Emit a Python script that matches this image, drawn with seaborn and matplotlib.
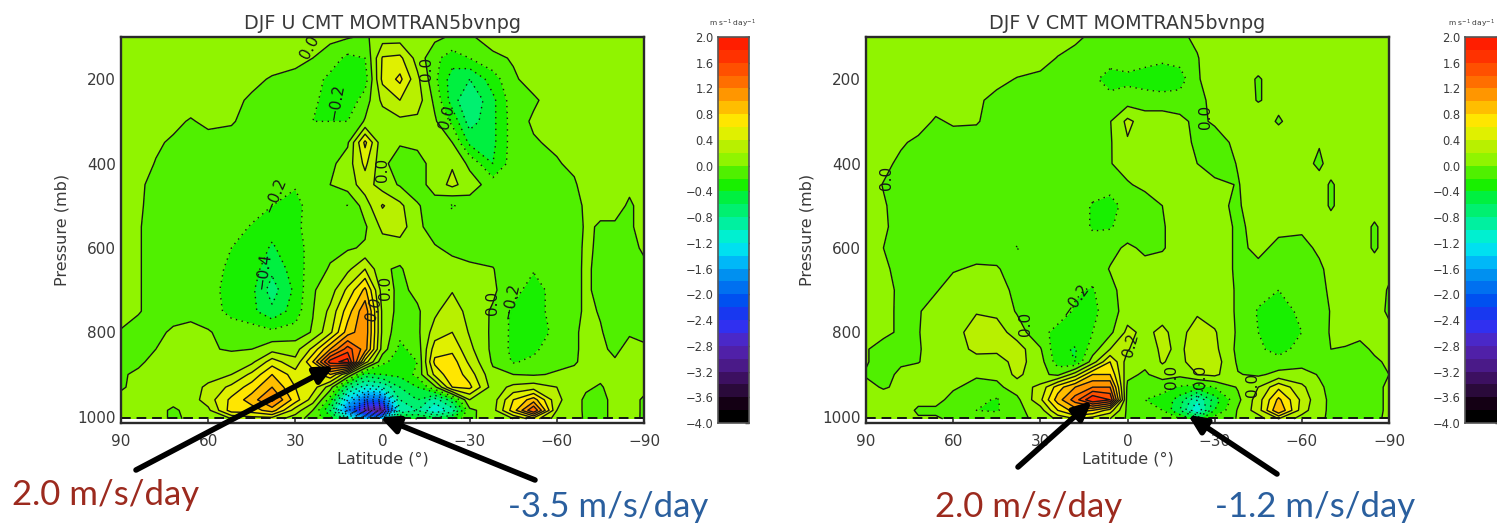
import numpy as np
import matplotlib
matplotlib.use("Agg")
import matplotlib.pyplot as plt
import seaborn as sns
from matplotlib.colors import ListedColormap, BoundaryNorm

lat = [90,84,78,72,66,60,52,45,38,30, 24,18,12,6,0,-6,-12,-18,-24,-30, -38,-45,-52,-60,-66,-70,-75,-80,-85,-90]
pressure = [100,150,200,250,300,350,400,450,500,550,600,650,700,750,800,840,870,900,930,960,985,1005]

u_values = [
 [.1,.1,.1,.1,.1,.1,.1,.1,.1,.1, .05,.05,.02,-.03,.1,.1,.1,.05,-.03,-.03, .1,.1,.1,.1,.1,.1,.1,.1,.1,.1],
 [.1,.1,.1,.1,.1,.1,.1,.1,.1,.05, 0,-.1,-.25,-.2,.42,.45,.12,-.15,-.3,-.2, -.05,.02,.1,.1,.1,.1,.1,.1,.1,.1],
 [.1,.1,.1,.1,.1,.1,.1,.05,-.02,-.05, -.12,-.25,-.35,-.3,.45,.65,.25,-.15,-.5,-.6, -.3,-.03,.08,.1,.1,.1,.1,.1,.1,.1],
 [.1,.1,.1,.1,.1,.1,.05,-.03,-.08,-.1, -.15,-.3,-.35,-.1,.25,.4,.3,-.05,-.5,-.8, -.45,-.08,-.03,.1,.1,.1,.1,.1,.1,.1],
 [.1,.1,.1,.05,-.02,.05,.02,-.08,-.1,-.1, -.2,-.2,-.2,.02,.08,.15,.15,.03,-.25,-.7, -.45,-.1,.03,.1,.1,.1,.1,.1,.1,.1],
 [.1,.1,.03,-.03,-.08,-.08,-.08,-.1,-.1,-.1, -.1,-.1,-.03,.65,.05,.02,.06,.08,0,-.45, -.45,-.1,-.02,.04,.1,.1,.1,.1,.1,.1],
 [.1,.08,-.01,-.08,-.1,-.1,-.1,-.1,-.1,-.1, -.1,-.05,.1,.45,.05,-.1,-.1,.1,.18,-.05, -.4,-.1,-.1,-.02,.05,.1,.1,.1,.1,.1],
 [.1,.03,-.05,-.1,-.1,-.1,-.1,-.1,-.1,-.18, -.1,0,.1,.3,.1,-.02,-.1,.1,.25,.1, -.1,-.1,-.1,-.1,-.03,.1,.08,.08,.03,.08],
 [.1,.02,-.05,-.1,-.1,-.1,-.1,-.1,-.2,-.27, -.1,-.1,-.21,.1,.42,.25,.02,-.1,-.22,-.1, -.1,-.1,-.1,-.1,-.1,.05,.05,.05,-.02,.05],
 [.1,.01,-.05,-.1,-.1,-.1,-.1,-.22,-.35,-.25, -.1,-.08,-.05,-.03,.25,.3,.05,-.1,-.1,-.1, -.1,-.1,-.1,-.1,-.1,.03,-.02,-.02,-.02,.05],
 [.1,.01,-.05,-.1,-.1,-.1,-.2,-.3,-.42,-.3, -.1,-.05,-.02,.02,.1,.1,.1,.02,-.05,-.1, -.1,-.1,-.1,-.1,-.06,.03,-.03,-.04,-.04,.02],
 [.1,.01,-.05,-.1,-.1,-.1,-.25,-.3,-.55,-.3, -.1,.02,.15,.4,.02,-.02,.1,.1,.08,.05, .01,-.15,-.18,-.1,-.05,.03,-.05,-.05,-.05,-.03],
 [.1,.01,-.05,-.1,-.1,-.15,-.25,-.35,-.7,-.35, -.02,.1,.45,.85,.1,-.05,.05,.1,.18,.1, .03,-.12,-.3,-.1,-.05,.03,-.05,-.05,-.05,-.03],
 [.1,.01,-.05,-.05,-.03,-.12,-.25,-.35,-.55,-.3, -.01,.25,.7,1.15,.15,-.08,-.03,.15,.35,.1, -.02,-.25,-.3,-.1,-.05,.03,-.01,-.05,-.05,-.03],
 [-.02,-.05,-.03,.02,.03,.02,-.1,-.1,-.15,-.12, .02,.35,.9,1.15,.15,-.15,-.05,.3,.4,.18, -.04,-.25,-.3,-.15,-.03,.05,.01,-.05,-.01,-.03],
 [-.02,-.05,0,.06,.08,.02,-.02,0,.12,.12, .45,1.0,1.5,1.1,.1,-.25,-.12,.5,.55,.25, -.05,-.25,-.25,-.05,-.03,.05,.02,-.02,.03,.02],
 [0,-.03,.05,.1,.1,.08,.1,.15,.5,.25, .8,1.7,1.9,.5,-.15,-.3,-.2,.65,.7,.35, -.03,-.22,-.15,-.05,-.02,.05,.05,.01,.05,.03],
 [-.02,.03,.1,.1,.1,.1,.2,.45,.8,.5, .45,.8,.2,-.5,-.4,-.35,-.15,.45,.75,.5, .05,0,-.02,.02,.05,.1,.05,.06,.08,.06],
 [-.02,.05,.1,.1,.1,.25,.45,.7,1.0,.6, .5,.1,-.7,-1.1,-1.0,-.6,-.4,-.05,.6,.65, .1,.25,.3,.2,.1,.03,-.02,.08,.08,.06],
 [.05,.05,.1,.1,.1,.3,.65,.9,1.25,.7, .3,-.3,-1.4,-2.0,-2.0,-.8,-.6,-.9,-.5,.2, .1,.6,.9,.25,.08,-.04,-.05,.05,.08,-.03],
 [.05,.1,.1,-.05,.1,.15,.7,.7,.9,.3, 0,-.6,-1.9,-3.0,-3.2,-1,-.8,-1.2,-.9,-.05, .12,.7,1.4,.2,.08,-.04,-.05,.05,.08,-.03],
 [.05,.05,.1,-.05,.05,.1,.2,.3,.3,.1, -.1,-.3,-1,-1.5,-1.5,-.3,-.4,-.5,-.4,-.02, .05,.2,.5,.1,.05,-.02,-.03,.03,.05,-.02],
]

v_values = [
 [.1,.1,.1,.1,.1,.1,.1,.1,.1,.1, .1,.03,-.03,-.05,-.05,-.05,-.05,-.03,.03,.1, .1,.1,.1,.1,.1,.1,.1,.1,.1,.1],
 [.1,.1,.1,.1,.1,.1,.1,.1,.1,.08, -.01,-.05,-.1,-.1,-.1,-.12,-.15,-.12,-.01,.1, .1,.1,.1,.1,.1,.1,.1,.1,.1,.1],
 [.1,.1,.1,.1,.1,.1,.1,.05,-.01,-.05, -.08,-.1,-.15,-.3,-.25,-.3,-.35,-.3,-.02,.1, .1,-.02,.1,.1,.1,.1,.1,.1,.1,.1],
 [.1,.1,.1,.1,.1,.1,.03,-.05,-.08,-.1, -.1,-.1,-.1,-.12,-.1,-.1,-.1,-.1,-.05,.05, .08,-.01,.05,.08,.1,.1,.1,.1,.1,.1],
 [.1,.1,.1,.1,-.03,.03,.02,-.1,-.1,-.1, -.1,-.1,-.1,-.01,.25,.1,.1,.05,-.05,.03, .1,.1,-.02,.1,.1,.1,.1,.1,.1,.1],
 [.1,.1,.03,-.05,-.1,-.1,-.1,-.1,-.1,-.1, -.1,-.1,-.1,-.02,.18,.1,.1,.1,-.05,-.1, .06,.1,.1,.1,.02,.1,.1,.1,.1,.1],
 [.1,.06,-.05,-.1,-.1,-.1,-.1,-.1,-.1,-.1, -.1,-.1,-.08,-.01,.08,.1,.1,.1,0,-.1, .01,.1,.1,.1,-.05,.1,.1,.1,.1,.1],
 [.1,-.01,-.08,-.1,-.1,-.1,-.1,-.1,-.1,-.1, -.1,-.1,-.1,-.1,-.02,.05,.1,.1,.1,.05, -.01,.1,.1,.1,.1,-.03,.1,.1,.1,.1],
 [.1,.02,-.08,-.1,-.1,-.1,-.1,-.1,-.1,-.1, -.1,-.1,-.22,-.3,-.1,-.1,0,.1,.1,.03, -.02,.1,.1,.1,.1,-.03,.1,.1,.1,.1],
 [.1,.02,-.05,-.1,-.1,-.1,-.1,-.1,-.1,-.1, -.1,-.1,-.22,-.22,-.1,-.1,-.02,.1,.1,.1, -.03,.05,.03,.03,.1,.1,.1,.1,-.03,.1],
 [.05,0,-.05,-.1,-.1,-.1,-.1,-.1,-.21,-.1, -.1,-.1,-.12,-.05,.03,-.03,-.02,.1,.1,.1, -.03,.03,-.03,-.05,.03,.1,.1,.1,-.03,.1],
 [.05,.03,-.05,-.1,-.1,-.02,.03,.02,-.1,-.1, -.1,-.1,-.1,.01,.1,.05,.1,.1,.1,.1, -.03,-.03,-.1,-.1,-.03,.05,.1,.1,.1,.05],
 [.05,.05,-.03,-.05,-.02,.1,.1,.08,-.05,-.1, -.1,-.18,-.22,-.05,.08,.1,.1,.1,.1,.1, -.02,-.12,-.2,-.1,-.05,.03,.1,.1,.1,-.02],
 [.05,.03,-.02,-.02,.1,.1,.18,.15,-.02,-.1, -.12,-.22,-.25,-.1,.1,.1,.1,.1,.15,.1, -.02,-.22,-.3,-.15,-.08,.01,.05,.05,.05,-.02],
 [.05,.03,-.02,-.01,.1,.1,.32,.3,.1,-.15, -.25,-.28,-.2,-.05,.25,.15,.25,.1,.35,.22, -.03,-.2,-.4,-.2,-.05,.01,.05,.05,.05,.03],
 [.01,-.05,-.05,-.02,.1,.1,.25,.25,.3,.02, -.35,-.42,-.1,.2,.22,.05,.25,.15,.35,.25, -.05,-.15,-.3,-.1,-.05,0,-.01,-.05,.03,.03],
 [.01,-.05,-.02,-.01,.1,.1,.12,.1,.28,.08, -.3,-.4,.1,.6,.1,.05,.22,.1,.4,.3, -.03,-.15,-.1,-.05,-.03,-.03,-.05,-.02,-.03,.03],
 [-.01,-.05,.03,.1,.1,.1,.02,.05,.25,.05, -.05,.3,.8,.8,.05,-.03,.1,.05,.2,.25, .01,-.03,.05,.05,-.01,-.05,-.05,-.02,-.05,0],
 [.03,-.01,.02,.1,.1,.02,-.05,-.05,.1,.25, .7,1.0,1.2,1.2,-.05,-.15,-.15,-.22,-.3,-.2, .02,.2,.55,.25,.02,-.03,-.05,-.05,-.03,.02],
 [.1,.05,.1,.05,.05,-.05,-.15,-.22,-.05,.35, .9,1.3,1.8,1.6,-.1,-.2,-.25,-.5,-1.0,-.5, -.05,.3,.85,.35,.05,-.03,-.05,-.05,-.03,.02],
 [.1,.1,.1,-.03,-.03,-.1,-.2,-.22,-.05,.1, .6,.9,.8,.5,-.05,-.1,-.2,-.6,-1.2,-.4, .02,.3,1.0,.3,.03,-.02,-.05,-.05,-.03,.02],
 [.1,.05,.05,.02,.02,-.03,-.1,-.1,-.02,.02, .25,.4,.3,.2,-.03,-.05,-.05,-.2,-.5,-.1, .01,.1,.4,.1,.02,-.02,-.03,-.03,-.02,.02],
]

titles = ["DJF U CMT MOMTRAN5bvnpg", "DJF V CMT MOMTRAN5bvnpg"]
lat_ticks = [90, 60, 30, 0, -30, -60, -90]
lat_tick_labels = ["90", "60", "30", "0", "\u221230", "\u221260", "\u221290"]
p_ticks = [200, 400, 600, 800, 1000]
cbar_ticks = [2.0,1.6,1.2,0.8,0.4,0.0,-0.4,-0.8,-1.2,-1.6,-2.0,-2.4,-2.8,-3.2,-3.6,-4.0]
band_colors = ["#000000","#140014","#2a0a3a","#3c1060","#4a1a88","#5020a8","#4a28c8","#3030f0",
               "#1838f0","#0050f0","#0070f0","#0090f0","#00b8f8","#00e0f0","#00f0d0","#00f0a0",
               "#00f070","#00f040","#18f000","#50f000","#90f400","#b8f000","#e0f000","#ffe600",
               "#ffbe00","#ff9600","#ff6e00","#ff5000","#ff3200","#ff1e00"]
levels = [round(-4 + 0.2*i, 1) for i in range(31)]

u_labels = [("0.0",25,125,62),("\u22120.2",16,255,80),("\u22120.2",37,475,68),("\u22120.4",41,655,82),
            ("0.0",-15,175,90),("0.0",-22,290,75),("0.0",0,415,90),("0.0",-38,730,90),("\u22120.2",-44,725,78),
            ("0.0",-1,695,90),("0.0",3,745,75)]
v_labels = [("0.0",83,435,90),("0.0",-27,290,90),("0.0",35,780,90),("\u22120.2",18,725,55),
            ("0.2",-1,830,75),("0.0",-15,905,90),("0.0",-25,905,90),("0.0",-43,925,90)]

sns.set_theme(style="ticks")
plt.rcParams["font.family"] = ["DejaVu Sans"]
W, H = 1497, 527
fig = plt.figure(figsize=(W/100, H/100), dpi=100)
cmap = ListedColormap(sns.color_palette(band_colors, n_colors=len(band_colors)))
norm = BoundaryNorm(levels, cmap.N)
TXT = "#3a3a3a"


def box(x0, x1, y0=37, y1=423):
    return [x0/W, 1 - y1/H, (x1-x0)/W, (y1-y0)/H]


def panel(x0, x1, values, title, labels):
    ax = fig.add_axes(box(x0, x1))
    z = np.array(values, dtype=float)
    ax.contourf(lat, pressure, z, levels=levels, cmap=cmap, norm=norm)
    neg = [l for l in levels if l < 0]
    pos = [l for l in levels if l >= 0]
    ax.contour(lat, pressure, z, levels=neg, colors="#151515", linewidths=1.0,
               linestyles=[(0, (1, 3.2))])
    ax.contour(lat, pressure, z, levels=pos, colors="#151515", linewidths=1.0, linestyles="solid")
    ax.axhline(1003, color="#111111", lw=1.4, ls=(0, (5, 3)))
    ax.set_xlim(90, -90)
    ax.set_ylim(1015, 100)
    ax.set_xticks(lat_ticks, lat_tick_labels)
    ax.set_yticks(p_ticks, [str(p) for p in p_ticks])
    ax.set_yticks(np.arange(100, 1001, 50), minor=True)
    ax.tick_params(axis="both", which="major", direction="in", top=True, right=True, length=7,
                   width=1.1, labelsize=11, labelcolor=TXT, color="#222222")
    ax.tick_params(axis="x", which="major", pad=8)
    ax.tick_params(axis="y", which="major", pad=3.5)
    ax.tick_params(axis="y", which="minor", direction="in", left=True, right=True, length=4,
                   width=1.0, color="#222222")
    for s in ax.spines.values():
        s.set_linewidth(1.7)
        s.set_color("#2a2a2a")
    ax.set_xlabel("Latitude (\u00b0)", fontsize=11.5, color=TXT, labelpad=2)
    ax.set_ylabel("Pressure (mb)", fontsize=11.5, color=TXT, labelpad=6)
    ax.set_title(title, fontsize=13.8, color=TXT, pad=6)
    for s, la, p, r in labels:
        ax.text(la, p, s, fontsize=11, rotation=r, ha="center", va="center", color="#161616")
    return ax


def colorbar(x0, x1, title_x, title_ha):
    cax = fig.add_axes(box(x0, x1))
    bands = np.array(levels[:-1][::-1]).reshape(-1, 1) + 0.1
    sns.heatmap(bands, cmap=cmap, norm=norm, cbar=False, ax=cax, xticklabels=False, yticklabels=False)
    cax.set_xticks([])
    pos = [(2.0 - t)/0.2 for t in cbar_ticks]
    cax.set_yticks(pos, [f"{t:.1f}".replace("-", "\u2212") for t in cbar_ticks])
    cax.tick_params(axis="y", left=False, right=True, labelleft=True, labelright=False, direction="in",
                    length=3, width=1, labelsize=8.3, labelcolor=TXT, pad=3, color="#222222",
                    labelrotation=0)
    for s in cax.spines.values():
        s.set_visible(True)
        s.set_linewidth(1.2)
        s.set_color("#555555")
    fig.text(title_x/W, 1 - 27/H, "m s$^{-1}$ day$^{-1}$", fontsize=5.4, color=TXT,
             ha=title_ha, va="baseline")


panel(121, 644, u_values, titles[0], u_labels)
panel(866, 1389, v_values, titles[1], v_labels)
colorbar(718, 749, 733, "center")
colorbar(1465, 1499, 1495, "right")

overlay = fig.add_axes([0, 0, 1, 1])
overlay.set_xlim(0, W)
overlay.set_ylim(H, 0)
overlay.axis("off")
overlay.patch.set_alpha(0)
arrows = [((136, 470), (334, 366)), ((535, 480), (380, 417)), ((1018, 467), (1092, 401)), ((1277, 474), (1188, 415))]
for start, end in arrows:
    overlay.annotate("", xy=end, xytext=start, arrowprops=dict(arrowstyle="-|>,head_width=0.42,head_length=0.9",
                     lw=4, color="black", shrinkA=0, shrinkB=0))
notes = [("2.0 m/s/day", 106, 495, "#9c2a1e"), ("-3.5 m/s/day", 608, 507, "#2a5f9e"),
         ("2.0 m/s/day", 1029, 507, "#9c2a1e"), ("-1.2 m/s/day", 1315, 507, "#2a5f9e")]
for s, x, y, c in notes:
    overlay.text(x, y, s, color=c, fontsize=25, ha="center", va="center", family="Lato")

fig.savefig("out.png", dpi=100)
